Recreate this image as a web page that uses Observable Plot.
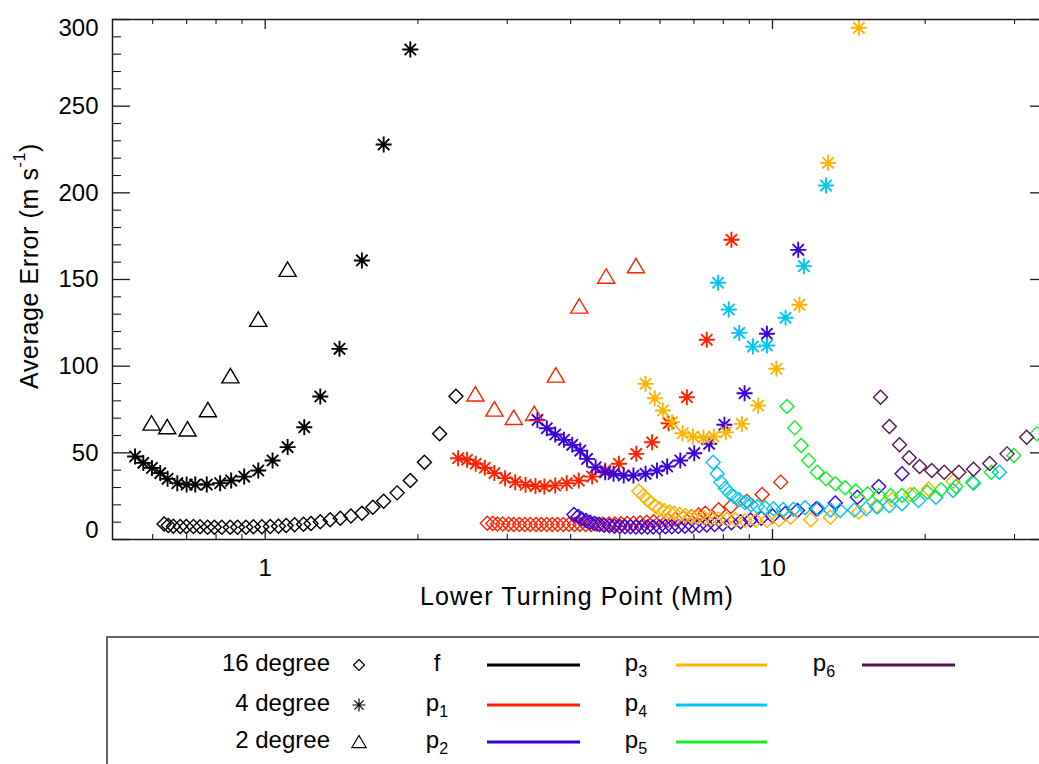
<!DOCTYPE html>
<html>
<head>
<meta charset="utf-8">
<script src="https://cdn.jsdelivr.net/npm/d3@7"></script>
<script src="https://cdn.jsdelivr.net/npm/@observablehq/plot@0.6"></script>
<style>
html, body { margin: 0; padding: 0; background: #fff; overflow: hidden; width: 1039px; height: 764px; }
#chart { position: absolute; left: 0; top: 0; width: 1100px; }
#chart svg { max-width: none !important; }
#legend { position: absolute; left: 0; top: 619px; }
text { font-family: "Liberation Sans", Arial, sans-serif; }
</style>
</head>
<body>
<div id="chart"></div>
<div id="legend"></div>
<script>
// ---------- categories ----------
const modes = ["f", "p1", "p2", "p3", "p4", "p5", "p6"];
const modeLabels = [["f", ""], ["p", "1"], ["p", "2"], ["p", "3"], ["p", "4"], ["p", "5"], ["p", "6"]];
const modeColors = ["#000000", "#ff2200", "#3a00dc", "#ffb300", "#00c6f2", "#14ef28", "#561456"];
const degreeLabels = ["16 degree", "4 degree", "2 degree"];

// ---------- tick labels ----------
const xMajorTicks = [1, 10];
const xMinorTicks = [0.6, 0.7, 0.8, 0.9, 2, 3, 4, 5, 6, 7, 8, 9, 20, 30];
const yLabelTicks = [50, 100, 150, 200, 250];
const yMajorTicks = [0, 50, 100, 150, 200, 250, 300];
const yMinorTicks = [10, 20, 30, 40, 60, 70, 80, 90, 110, 120, 130, 140, 160, 170, 180, 190, 210, 220, 230, 240, 260, 270, 280, 290];

// ---------- series values (x: lower turning point, Mm; y: average error, m/s) ----------
// f mode
const f16X = [0.632,0.644,0.659,0.680,0.699,0.722,0.744,0.770,0.794,0.821,0.853,0.882,0.916,0.948,0.985,1.023,1.062,1.100,1.143,1.190,1.231,1.284,1.343,1.406,1.476,1.551,1.630,1.712,1.820,1.932,2.060,2.207,2.377];
const f16Y = [9.0,8.1,7.7,7.5,7.5,7.5,7.3,7.1,7.1,7.1,7.1,7.1,7.1,7.3,7.3,7.5,7.7,8.1,8.5,8.8,9.2,10.2,11.4,12.3,13.6,15.2,18.6,22.1,26.9,34.0,44.6,61.0,82.7];
const f4X = [0.554,0.575,0.598,0.621,0.642,0.671,0.700,0.728,0.767,0.815,0.857,0.909,0.969,1.034,1.107,1.194,1.284,1.401,1.551,1.712,1.932];
const f4Y = [47.9,44.2,41.3,38.3,35.0,32.5,31.7,31.7,31.7,32.5,34.0,36.3,39.8,45.6,53.3,64.8,82.5,110.0,161.0,227.9,282.7];
const f2X = [0.597,0.641,0.703,0.771,0.854,0.969,1.107];
const f2Y = [66.9,64.8,63.5,74.6,94.2,126.8,155.6];
// p1 mode
const p1_16X = [2.74,2.81,2.87,2.94,3.02,3.09,3.17,3.25,3.33,3.42,3.50,3.59,3.68,3.77,3.87,3.97,4.07,4.17,4.28,4.39,4.51,4.63,4.76,4.89,5.03,5.17,5.32,5.48,5.65,5.83,6.02,6.22,6.44,6.67,6.92,7.15,7.37,7.83,8.28,8.9,9.54,10.38];
const p1_16Y = [9.4,9.2,9.0,8.9,8.8,8.7,8.7,8.7,8.7,8.7,8.7,8.7,8.7,8.7,8.7,8.7,8.7,8.7,8.7,8.7,8.8,8.8,8.9,9.0,9.1,9.2,9.4,9.6,9.9,10.2,10.6,11.1,11.7,12.5,13.3,14.2,15.2,17.1,19.0,22.0,26.0,33.1];
const p1_4X = [2.40,2.50,2.60,2.71,2.83,2.97,3.11,3.26,3.41,3.55,3.73,3.93,4.15,4.41,4.68,4.98,5.39,5.79,6.24,6.78,7.42,8.3];
const p1_4Y = [46.9,46.0,43.7,41.4,38.3,35.4,33.1,31.6,30.8,30.6,31.2,32.5,34.0,36.3,39.8,43.7,49.4,56.1,67.1,82.1,115.2,172.9];
const p1_2X = [2.596,2.83,3.09,3.39,3.74,4.16,4.70,5.38];
const p1_2Y = [83.7,75.0,70.2,72.5,94.6,134.4,151.7,157.7];
// p2 mode
const p2_16X = [4.06,4.14,4.21,4.29,4.37,4.46,4.56,4.66,4.77,4.88,5.00,5.12,5.25,5.38,5.52,5.67,5.82,5.98,6.15,6.33,6.52,6.72,6.94,7.17,7.42,7.69,7.98,8.3,8.65,9.05,9.5,10.0,10.6,11.2,12.2,13.3,14.7,16.2,18.0];
const p2_16Y = [14.4,13.3,11.9,11.0,10.0,9.2,8.6,8.2,7.9,7.7,7.5,7.4,7.3,7.2,7.2,7.2,7.2,7.2,7.3,7.4,7.5,7.6,7.8,8.0,8.3,8.6,9.0,9.6,10.3,11.2,12.3,13.5,15.0,16.7,17.7,21.0,24.4,30.6,37.9];
const p2_4X = [3.44,3.59,3.73,3.88,4.03,4.18,4.31,4.48,4.68,4.86,5.09,5.32,5.62,5.92,6.2,6.58,7.01,7.5,8.04,8.81,9.75,11.24];
const p2_4Y = [69.0,64.2,60.6,57.5,54.6,51.3,46.5,41.7,38.8,37.9,36.9,36.9,37.9,39.8,42.1,45.6,49.8,55.2,66.2,84.4,118.7,167.1];
// p3 mode
const p3_16X = [5.45,5.57,5.66,5.77,5.88,5.99,6.12,6.26,6.40,6.56,6.73,6.91,7.10,7.32,7.57,7.83,8.13,8.45,8.83,9.27,9.75,10.3,10.85,11.9,13.0,14.8,16.0,17.2,18.7,20.3,22.7];
const p3_16Y = [27.9,25.4,22.9,21.0,19.0,17.7,16.7,15.8,15.2,14.4,13.8,13.3,12.9,12.5,12.3,11.9,11.5,11.4,11.0,11.0,11.0,11.4,12.9,11.4,12.9,15.8,19.0,22.9,26.0,29.2,33.6];
const p3_4X = [5.62,5.86,6.08,6.34,6.65,6.97,7.31,7.66,8.09,8.70,9.37,10.18,11.3,12.87,14.8];
const p3_4Y = [89.8,81.5,74.4,67.7,61.3,59.4,58.7,59.4,61.9,66.7,77.3,98.5,135.4,217.3,295.2];
// p4 mode
const p4_16X = [7.64,7.78,7.91,8.07,8.22,8.39,8.6,8.82,9.07,9.34,9.67,10.04,10.5,11.0,11.6,12.3,13.0,13.6,14.5,15.3,16.1,17.0,18.0,19.4,21.0,22.7,24.9,28.0];
const p4_16Y = [44.6,37.9,33.1,29.6,26.9,24.8,22.9,21.3,20.0,19.0,18.3,17.7,17.3,17.5,18.3,17.7,17.0,16.7,17.0,17.8,18.7,19.5,20.6,22.5,24.4,28.3,32.5,38.8];
const p4_4X = [7.81,8.2,8.6,9.15,9.75,10.61,11.53,12.75];
const p4_4Y = [148.1,132.7,119.2,111.3,111.9,127.9,157.7,204.2];
// p5 mode
const p5_16X = [10.68,11.06,11.39,11.78,12.25,12.75,13.3,13.9,14.6,15.4,16.2,17.1,18.0,19.0,20.2,21.5,23.0,24.8,27.0,29.9,33.2];
const p5_16Y = [76.7,64.4,54.2,45.6,38.8,35.0,32.1,29.8,27.9,26.4,25.4,25.4,25.4,26.0,27.3,28.7,30.6,33.1,38.8,48.5,61.0];
// p6 mode
const p6_16X = [16.33,17.0,17.8,18.6,19.5,20.6,21.8,23.3,24.9,26.8,29.0,31.7];
const p6_16Y = [82.1,65.2,54.6,47.1,42.1,39.8,38.8,38.8,40.5,43.8,49.4,59.0];

const series = [
  {mode: "f", degree: "16", x: f16X, y: f16Y},
  {mode: "f", degree: "4", x: f4X, y: f4Y},
  {mode: "f", degree: "2", x: f2X, y: f2Y},
  {mode: "p1", degree: "16", x: p1_16X, y: p1_16Y},
  {mode: "p1", degree: "4", x: p1_4X, y: p1_4Y},
  {mode: "p1", degree: "2", x: p1_2X, y: p1_2Y},
  {mode: "p2", degree: "16", x: p2_16X, y: p2_16Y},
  {mode: "p2", degree: "4", x: p2_4X, y: p2_4Y},
  {mode: "p3", degree: "16", x: p3_16X, y: p3_16Y},
  {mode: "p3", degree: "4", x: p3_4X, y: p3_4Y},
  {mode: "p4", degree: "16", x: p4_16X, y: p4_16Y},
  {mode: "p4", degree: "4", x: p4_4X, y: p4_4Y},
  {mode: "p5", degree: "16", x: p5_16X, y: p5_16Y},
  {mode: "p6", degree: "16", x: p6_16X, y: p6_16Y}
];
const rows = series.flatMap(s => s.x.map((x, i) => ({x, y: s.y[i], mode: s.mode, degree: s.degree})));

// ---------- custom IDL-like symbols (radius recovered from size) ----------
const diamondSym = {draw(ctx, size) {
  const r = Math.sqrt(size / Math.PI);
  ctx.moveTo(0, -r); ctx.lineTo(r, 0); ctx.lineTo(0, r); ctx.lineTo(-r, 0); ctx.closePath();
}};
const asteriskSym = {draw(ctx, size) {
  const r = Math.sqrt(size / Math.PI), d = r * 0.7071;
  ctx.moveTo(0, -r); ctx.lineTo(0, r);
  ctx.moveTo(-r, 0); ctx.lineTo(r, 0);
  ctx.moveTo(-d, -d); ctx.lineTo(d, d);
  ctx.moveTo(-d, d); ctx.lineTo(d, -d);
}};
const triangleSym = {draw(ctx, size) {
  const r = Math.sqrt(size / Math.PI);
  ctx.moveTo(0, -r); ctx.lineTo(r * 1.1, r * 0.85); ctx.lineTo(-r * 1.1, r * 0.85); ctx.closePath();
}};

// ---------- layout ----------
const W = 1058, H = 619, mL = 112, mR = 10, mT = 19, mB = 80;
const plotW = W - mL - mR, plotH = H - mT - mB;
const axisColor = "#1a1a1a";
const font = "Liberation Sans, Arial, Helvetica, sans-serif";

const chart = Plot.plot({
  width: W, height: H,
  marginLeft: mL, marginRight: mR, marginTop: mT, marginBottom: mB,
  style: {fontFamily: font, fontSize: "24px", background: "white", color: "#000", overflow: "visible", maxWidth: "none"},
  x: {type: "log", domain: [0.5, 35]},
  y: {domain: [0, 300]},
  color: {type: "ordinal", domain: modes, range: modeColors},
  marks: [
    // data
    Plot.dot(rows.filter(d => d.degree === "16"), {x: "x", y: "y", stroke: "mode", fill: "none", symbol: diamondSym, r: 7, strokeWidth: 1.4}),
    Plot.dot(rows.filter(d => d.degree === "4"), {x: "x", y: "y", stroke: "mode", fill: "none", symbol: asteriskSym, r: 8, strokeWidth: 1.9}),
    Plot.dot(rows.filter(d => d.degree === "2"), {x: "x", y: "y", stroke: "mode", fill: "none", symbol: triangleSym, r: 7.8, strokeWidth: 1.4}),
    // inward ticks (IDL style)
    Plot.tickY(yMajorTicks, {y: d => d, insetRight: plotW - 18, stroke: axisColor, strokeWidth: 1.3}),
    Plot.tickY(yMinorTicks, {y: d => d, insetRight: plotW - 9, stroke: axisColor, strokeWidth: 1.1}),
    Plot.tickY(yMajorTicks, {y: d => d, insetLeft: plotW - 18, stroke: axisColor, strokeWidth: 1.3}),
    Plot.tickY(yMinorTicks, {y: d => d, insetLeft: plotW - 9, stroke: axisColor, strokeWidth: 1.1}),
    Plot.tickX(xMajorTicks, {x: d => d, insetTop: plotH - 10, stroke: axisColor, strokeWidth: 1.3}),
    Plot.tickX(xMinorTicks, {x: d => d, insetTop: plotH - 5, stroke: axisColor, strokeWidth: 1.1}),
    Plot.tickX(xMajorTicks, {x: d => d, insetBottom: plotH - 10, stroke: axisColor, strokeWidth: 1.3}),
    Plot.tickX(xMinorTicks, {x: d => d, insetBottom: plotH - 5, stroke: axisColor, strokeWidth: 1.1}),
    Plot.frame({stroke: axisColor, strokeWidth: 1.5}),
    // tick labels
    Plot.axisX({ticks: xMajorTicks, tickSize: 0, tickPadding: 19, tickFormat: d => String(d), label: null, fontSize: 24}),
    Plot.axisY({ticks: yLabelTicks, tickSize: 0, tickPadding: 14, tickFormat: d => String(d), label: null, fontSize: 24}),
    Plot.axisY({ticks: [0], tickSize: 0, tickPadding: 14, tickFormat: d => String(d), label: null, fontSize: 24, dy: -9}),
    Plot.axisY({ticks: [300], tickSize: 0, tickPadding: 14, tickFormat: d => String(d), label: null, fontSize: 24, dy: 9})
  ]
});
chart.style.maxWidth = "none";
chart.setAttribute("width", W);

// axis titles
const svg = d3.select(chart);
svg.append("text")
  .attr("x", mL + plotW / 2 - 3).attr("y", 598)
  .attr("text-anchor", "middle").attr("dominant-baseline", "middle")
  .attr("font-size", 25).attr("letter-spacing", "1.1px").attr("font-family", font).attr("fill", "#000")
  .text("Lower Turning Point (Mm)");
const yt = svg.append("text")
  .attr("transform", "translate(31,266) rotate(-90)")
  .attr("text-anchor", "middle").attr("dominant-baseline", "middle")
  .attr("font-size", 25).attr("letter-spacing", "0.6px").attr("font-family", font).attr("fill", "#000");
yt.append("tspan").text("Average Error (m s");
yt.append("tspan").attr("font-size", 16).attr("dy", -10).text("-1");
yt.append("tspan").attr("dy", 10).text(")");

document.getElementById("chart").append(chart);

// ---------- legend ----------
const leg = d3.select("#legend").append("svg").attr("width", 1039).attr("height", 145);
leg.append("rect").attr("x", 107).attr("y", 18).attr("width", 1100).attr("height", 300)
  .attr("fill", "none").attr("stroke", "#333").attr("stroke-width", 1.5);
const rowY = [46, 86, 123];
const legSyms = [diamondSym, asteriskSym, triangleSym];
const legR = [5.5, 6.5, 6.5];
degreeLabels.forEach((lab, i) => {
  leg.append("text").attr("x", 330).attr("y", rowY[i]).attr("text-anchor", "end")
    .attr("dominant-baseline", "middle").attr("font-size", 24).attr("font-family", font).text(lab);
  leg.append("path").attr("transform", `translate(359,${rowY[i]})`)
    .attr("d", d3.symbol(legSyms[i], Math.PI * legR[i] * legR[i])())
    .attr("fill", "none").attr("stroke", "#000").attr("stroke-width", 1.2);
});
const colText = [437, 636, 824];
const colLine = [[487, 580], [676, 767], [862, 955]];
modes.forEach((m, i) => {
  const col = Math.floor(i / 3), row = i % 3;
  const t = leg.append("text").attr("x", colText[col]).attr("y", rowY[row]).attr("text-anchor", "middle")
    .attr("dominant-baseline", "middle").attr("font-size", 24).attr("font-family", font);
  t.append("tspan").text(modeLabels[i][0]);
  if (modeLabels[i][1]) t.append("tspan").attr("font-size", 16).attr("dy", 8).text(modeLabels[i][1]);
  leg.append("line").attr("x1", colLine[col][0]).attr("x2", colLine[col][1])
    .attr("y1", rowY[row]).attr("y2", rowY[row])
    .attr("stroke", modeColors[i]).attr("stroke-width", 3);
});
</script>
</body>
</html>
